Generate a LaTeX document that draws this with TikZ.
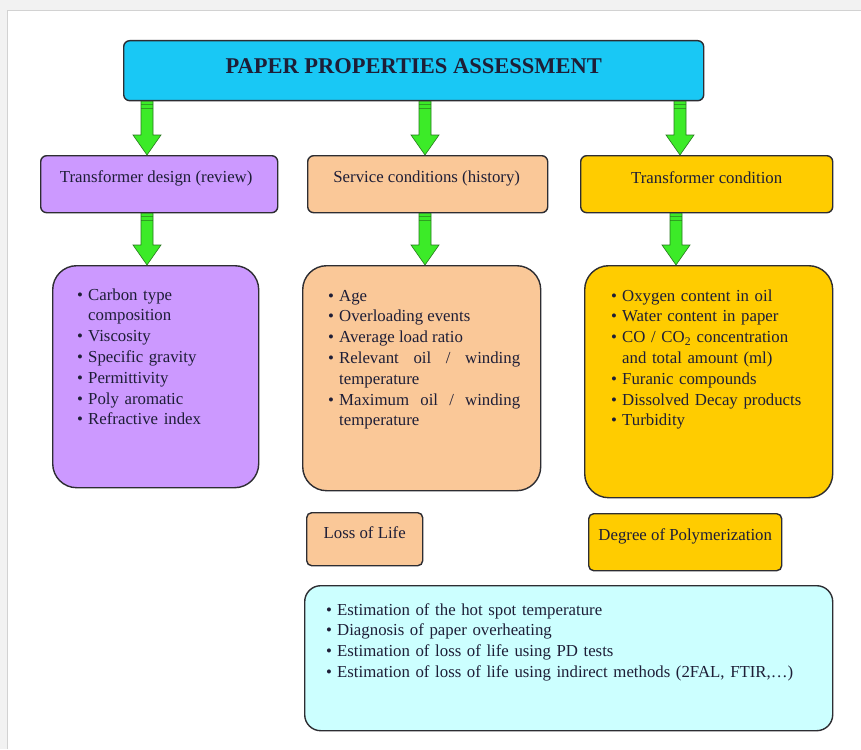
\documentclass[tikz,border=0pt]{standalone}
\usepackage{fontspec}
\setmainfont{Liberation Serif}
\usetikzlibrary{calc}
\definecolor{titlec}{RGB}{25,200,245}
\definecolor{purp}{RGB}{204,153,255}
\definecolor{peach}{RGB}{250,200,152}
\definecolor{gold}{RGB}{255,204,0}
\definecolor{lcyan}{RGB}{204,255,255}
\definecolor{arrowg}{RGB}{60,235,40}
\definecolor{arrowd}{RGB}{40,120,30}
\definecolor{txt}{RGB}{30,30,55}
\definecolor{edge}{RGB}{45,45,50}
\newcommand\bitem{\par\noindent\hangindent=11pt\hangafter=1\makebox[11pt][l]{\textbullet}}
\tikzset{
  bx/.style={draw=edge, line width=1.4pt, anchor=north west, inner sep=0pt},
  lbl/.style={text=txt, font=\fontsize{16.8}{20.7}\selectfont, inner sep=0pt},
  lst/.style={text=txt, font=\fontsize{16.8}{20.8}\selectfont, inner sep=0pt, anchor=north west, align=left},
  blockarrow/.style={fill=arrowg, draw=arrowd, line width=0.6pt,
    to path={let \p1=(\tikztostart), \p2=(\tikztotarget) in
      (\x1-6pt,\y1) -- (\x1-6pt,\y2+20pt) -- (\x1-14pt,\y2+20pt) -- (\x2,\y2)
      -- (\x1+14pt,\y2+20pt) -- (\x1+6pt,\y2+20pt) -- (\x1+6pt,\y1) -- cycle
      (\x1-6pt,\y1-3pt) -- (\x1+6pt,\y1-3pt)
      (\x1-6pt,\y1-7pt) -- (\x1+6pt,\y1-7pt)}}
}
\begin{document}
\begin{tikzpicture}[x=1pt,y=-1pt]
\useasboundingbox (0,0) rectangle (861,749);
\fill[gray!10] (0,0) rectangle (861,749);
\fill[white] (7,10) rectangle (861,749);
\draw[gray!35, line width=0.8pt] (7,749) -- (7,10) -- (861,10);

% boxes
\node[bx, fill=titlec, rounded corners=6pt, minimum width=580pt, minimum height=60pt] (title) at (123,40) {};
\node[bx, fill=purp, rounded corners=6pt, minimum width=237pt, minimum height=57pt] (design) at (40,155) {};
\node[bx, fill=peach, rounded corners=6pt, minimum width=240pt, minimum height=57pt] (service) at (307,155) {};
\node[bx, fill=gold, rounded corners=6pt, minimum width=252pt, minimum height=57pt] (cond) at (580,155) {};
\node[bx, fill=purp, rounded corners=24pt, minimum width=206pt, minimum height=222pt] (props) at (52,265) {};
\node[bx, fill=peach, rounded corners=24pt, minimum width=238pt, minimum height=225pt] (hist) at (302,265) {};
\node[bx, fill=gold, rounded corners=24pt, minimum width=248pt, minimum height=232pt] (meas) at (584,265) {};
\node[bx, fill=peach, rounded corners=5pt, minimum width=116pt, minimum height=53pt] (loss) at (306,512) {};
\node[bx, fill=gold, rounded corners=5pt, minimum width=193pt, minimum height=57pt] (dp) at (588,513) {};
\node[bx, fill=lcyan, rounded corners=16pt, minimum width=528pt, minimum height=145pt] (est) at (304,585) {};

% arrows
\coordinate (xa) at (147,0);
\coordinate (xb) at (425,0);
\coordinate (xc) at (680,0);
\coordinate (xd) at (676,0);
\draw[blockarrow] (title.south -| xa) to (design.north -| xa);
\draw[blockarrow] (title.south -| xb) to (service.north -| xb);
\draw[blockarrow] (title.south -| xc) to (cond.north -| xc);
\draw[blockarrow] (design.south -| xa) to (props.north -| xa);
\draw[blockarrow] (service.south -| xb) to (hist.north -| xb);
\draw[blockarrow] (cond.south -| xd) to (meas.north -| xd);

% labels
\node[text=txt, font=\fontsize{22.5}{26}\selectfont\bfseries, inner sep=0pt] at ($(title.north)+(0,26)$) {PAPER PROPERTIES ASSESSMENT};
\node[lbl] at ($(design.north)+(-3,23)$) {Transformer design (review)};
\node[lbl] at ($(service.north)+(-1,23)$) {Service conditions (history)};
\node[lbl] at ($(cond.north)+(0,23)$) {Transformer condition};
\node[lbl] at ($(loss.north)+(0,21)$) {Loss of Life};
\node[lbl] at ($(dp.north)+(0,23)$) {Degree of Polymerization};

\node[lst, text width=175pt] at ($(props.north west)+(25,14)$) {%
\bitem Carbon type\newline composition
\bitem Viscosity
\bitem Specific gravity
\bitem Permittivity
\bitem Poly aromatic
\bitem Refractive index\par};

\node[lst, align=justify, text width=192pt] at ($(hist.north west)+(26,15)$) {%
\bitem Age
\bitem Overloading events
\bitem Average load ratio
\bitem Relevant oil / winding\linebreak temperature
\bitem Maximum oil / winding\linebreak temperature\par};

\node[lst, text width=215pt] at ($(meas.north west)+(27,15)$) {%
\bitem Oxygen content in oil
\bitem Water content in paper
\bitem CO / CO\textsubscript{2} concentration\newline and total amount (ml)
\bitem Furanic compounds
\bitem Dissolved Decay products
\bitem Turbidity\par};

\node[lst, text width=500pt] at ($(est.north west)+(22,9)$) {%
\bitem Estimation of the hot spot temperature
\bitem Diagnosis of paper overheating
\bitem Estimation of loss of life using PD tests
\bitem Estimation of loss of life using indirect methods (2FAL, FTIR,\ldots)\par};
\end{tikzpicture}
\end{document}
